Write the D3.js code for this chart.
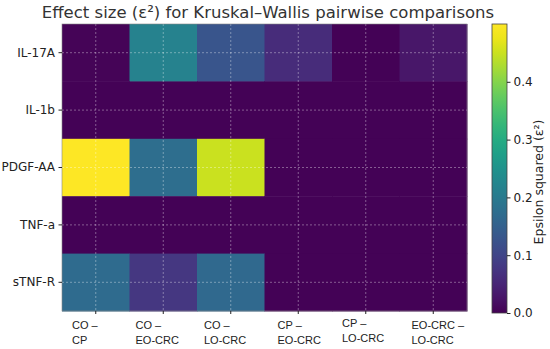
<!DOCTYPE html>
<html>
<head>
<meta charset="utf-8">
<script src="https://cdn.jsdelivr.net/npm/d3@7"></script>
<style>
  body { margin: 0; background: #fff; }
  svg { display: block; font-family: "DejaVu Sans", sans-serif; }
</style>
</head>
<body>
<div id="chart"></div>
<script>
// comparisons (columns) and markers (rows)
const comparisons = [["CO –", "CP"], ["CO –", "EO-CRC"], ["CO –", "LO-CRC"],
                     ["CP –", "EO-CRC"], ["CP –", "LO-CRC"], ["EO-CRC –", "LO-CRC"]];
const markers = ["IL-17A", "IL-1b", "PDGF-AA", "TNF-a", "sTNF-R"];

// epsilon squared, one row per marker
const il17a  = [0.005, 0.215, 0.13, 0.06, 0.002, 0.03];
const il1b   = [0.003, 0.003, 0.003, 0.003, 0.003, 0.003];
const pdgfaa = [0.49, 0.175, 0.45, 0.003, 0.003, 0.003];
const tnfa   = [0.003, 0.003, 0.003, 0.003, 0.003, 0.003];
const stnfr  = [0.17, 0.078, 0.165, 0.003, 0.003, 0.003];
const values = [il17a, il1b, pdgfaa, tnfa, stnfr];

const cbTicks = [0, 0.1, 0.2, 0.3, 0.4];

var width = 550
var height = 349
var plot = {left: 62, right: 467, top: 24, bottom: 311}

// the x labels were placed by hand in the original, a bit off centre
var labelShift = [10, 6, 7, 13, 10, 12]
var labelBase = [329, 329, 329, 329, 327, 329]

var svg = d3.select("#chart").append("svg")
    .attr("width", width)
    .attr("height", height)

var x = d3.scaleBand().domain(d3.range(comparisons.length)).range([plot.left, plot.right])
var y = d3.scaleBand().domain(markers).range([plot.top, plot.bottom])
var color = d3.scaleSequential(d3.interpolateViridis).domain([0, 0.49])

// title
svg.append("text")
    .attr("x", 268).attr("y", 18)
    .attr("text-anchor", "middle")
    .style("font-size", "16.5px")
    .style("fill", "#333")
    .text("Effect size (ε²) for Kruskal–Wallis pairwise comparisons")

// cells
var cells = []
values.forEach((row, i) => row.forEach((v, j) => cells.push({m: markers[i], c: j, v: v})))

svg.append("g").selectAll("rect")
  .data(cells)
  .enter().append("rect")
    .attr("x", d => x(d.c))
    .attr("y", d => y(d.m))
    .attr("width", x.bandwidth() + 0.5)
    .attr("height", y.bandwidth() + 0.5)
    .attr("fill", d => color(d.v))

// dashed grid at cell centres
var grid = svg.append("g")
    .attr("stroke", "#fff")
    .attr("stroke-opacity", 0.45)
    .attr("stroke-width", 0.8)
    .attr("stroke-dasharray", "2,2")
grid.selectAll(".gx").data(x.domain()).enter().append("line")
    .attr("x1", d => x(d) + x.bandwidth() / 2).attr("x2", d => x(d) + x.bandwidth() / 2)
    .attr("y1", plot.top).attr("y2", plot.bottom)
grid.selectAll(".gy").data(markers).enter().append("line")
    .attr("y1", d => y(d) + y.bandwidth() / 2).attr("y2", d => y(d) + y.bandwidth() / 2)
    .attr("x1", plot.left).attr("x2", plot.right)

svg.append("rect")
    .attr("x", plot.left).attr("y", plot.top)
    .attr("width", plot.right - plot.left).attr("height", plot.bottom - plot.top)
    .attr("fill", "none").attr("stroke", "#888").attr("stroke-width", 0.6)

// y axis
var yAxis = svg.append("g")
    .attr("transform", "translate(" + plot.left + ",0)")
    .call(d3.axisLeft(y).tickSize(3.5).tickPadding(3.5))
yAxis.select(".domain").remove()
yAxis.selectAll("text").style("font-size", "12px").style("fill", "#222").style("font-family", "DejaVu Sans")
yAxis.selectAll("line").attr("stroke", "#222")

// x ticks
svg.append("g").selectAll("line")
  .data(x.domain())
  .enter().append("line")
    .attr("x1", d => x(d) + x.bandwidth() / 2).attr("x2", d => x(d) + x.bandwidth() / 2)
    .attr("y1", plot.bottom).attr("y2", plot.bottom + 3)
    .attr("stroke", "#222")

// x labels, two lines, left aligned inside the band
var xl = svg.append("g").selectAll("text")
  .data(comparisons)
  .enter().append("text")
    .attr("x", (d, i) => x(i) + labelShift[i])
    .attr("y", (d, i) => labelBase[i])
    .style("font-family", "Liberation Sans, Arial, sans-serif")
    .style("font-size", "11px")
    .style("fill", "#222")
xl.append("tspan").text(d => d[0])
xl.append("tspan").attr("x", (d, i) => x(i) + labelShift[i]).attr("dy", 14.5).text(d => d[1])

// colour bar
var cb = {x: 492, w: 15, top: 24, bottom: 313}
var cbScale = d3.scaleLinear().domain([0, 0.5]).range([cb.bottom, cb.top])

var defs = svg.append("defs")
var grad = defs.append("linearGradient").attr("id", "vir")
    .attr("x1", 0).attr("y1", 1).attr("x2", 0).attr("y2", 0)
d3.range(0, 1.01, 0.05).forEach(t => {
  grad.append("stop").attr("offset", t).attr("stop-color", color(t * 0.5))
})
svg.append("rect")
    .attr("x", cb.x).attr("y", cb.top)
    .attr("width", cb.w).attr("height", cb.bottom - cb.top)
    .attr("fill", "url(#vir)")
    .attr("stroke", "#444").attr("stroke-width", 0.8)

var cAxis = svg.append("g")
    .attr("transform", "translate(" + (cb.x + cb.w) + ",0)")
    .call(d3.axisRight(cbScale).tickValues(cbTicks).tickFormat(d3.format(".1f")).tickSize(3.5).tickPadding(3))
cAxis.select(".domain").remove()
cAxis.selectAll("text").style("font-size", "12px").style("fill", "#222").style("font-family", "DejaVu Sans")
cAxis.selectAll("line").attr("stroke", "#222")

svg.append("text")
    .attr("transform", "translate(543,182) rotate(-90)")
    .attr("text-anchor", "middle")
    .style("font-size", "12.5px")
    .style("fill", "#222")
    .text("Epsilon squared (ε²)")
</script>
</body>
</html>
